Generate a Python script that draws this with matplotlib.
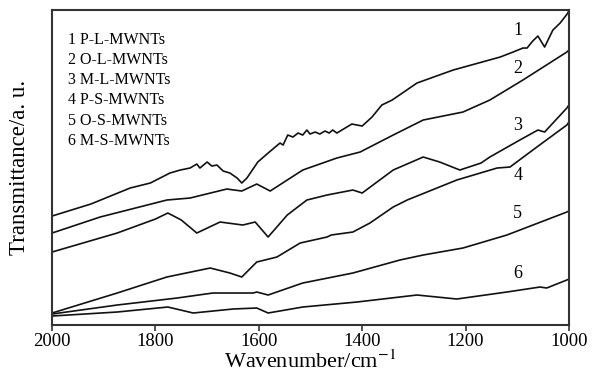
import matplotlib.pyplot as plt

plt.rcParams['font.family'] = ['Liberation Serif', 'DejaVu Serif']
plt.rcParams['mathtext.fontset'] = 'stix'

# spectra (wavenumber / cm-1, transmittance a.u.)
w1 = [2000, 1925, 1849, 1810, 1791, 1772, 1752, 1733, 1720, 1714, 1700, 1691,
      1681, 1669, 1656, 1642, 1633, 1623, 1602, 1582, 1559, 1553, 1544, 1534,
      1524, 1515, 1507, 1501, 1491, 1482, 1472, 1464, 1457, 1449, 1420, 1400,
      1381, 1362, 1342, 1294, 1224, 1133, 1108, 1089, 1081, 1070, 1060, 1047,
      1031, 1017, 1002, 1000]
t1 = [109, 121, 137, 142, 147, 152, 155, 157, 161, 157, 163, 159,
      160, 154, 152, 147, 142, 147, 163, 172, 182, 180, 190, 188,
      192, 190, 195, 191, 193, 191, 194, 192, 195, 192, 201, 199,
      208, 220, 225, 242, 255, 268, 273, 277, 277, 284, 289, 278,
      295, 302, 312, 315]

w2 = [2000, 1907, 1778, 1733, 1662, 1633, 1604, 1578, 1515, 1449, 1404, 1340,
      1282, 1205, 1153, 1089, 1004, 1000]
t2 = [92, 108, 125, 127, 136, 134, 141, 134, 155, 167, 173, 190,
      205, 213, 225, 245, 273, 275]

w3 = [2000, 1874, 1800, 1776, 1750, 1720, 1675, 1631, 1607, 1582, 1545, 1507,
      1468, 1418, 1400, 1340, 1282, 1250, 1211, 1170, 1153, 1095, 1060, 1047,
      1004, 1000]
t3 = [73, 92, 106, 112, 105, 92, 103, 100, 103, 88, 110, 125,
      130, 135, 132, 155, 168, 163, 155, 162, 168, 185, 195, 193,
      217, 220]

w4 = [2000, 1874, 1778, 1694, 1656, 1633, 1604, 1565, 1520, 1468, 1460, 1418,
      1385, 1340, 1313, 1217, 1139, 1114, 1062, 1004, 1000]
t4 = [12, 32, 48, 57, 52, 48, 63, 68, 82, 88, 90, 93,
      102, 118, 125, 145, 157, 158, 178, 200, 203]

w5 = [2000, 1874, 1758, 1689, 1611, 1604, 1582, 1515, 1418, 1327, 1282, 1205,
      1120, 1004, 1000]
t5 = [11, 20, 27, 32, 32, 33, 30, 42, 52, 65, 70, 77,
      90, 113, 114]

w6 = [2000, 1874, 1776, 1727, 1650, 1604, 1582, 1515, 1410, 1294, 1217, 1120,
      1056, 1043, 1004, 1000]
t6 = [9, 13, 18, 12, 16, 17, 12, 18, 23, 30, 26, 33,
      38, 37, 45, 46]

curve_labels = ['1', '2', '3', '4', '5', '6']
label_t = [295, 257, 200, 150, 112, 52]
names = ['1 P-L-MWNTs', '2 O-L-MWNTs', '3 M-L-MWNTs',
         '4 P-S-MWNTs', '5 O-S-MWNTs', '6 M-S-MWNTs']

fig = plt.figure(figsize=(5.92, 3.86), dpi=100)
ax = fig.add_axes([0.088, 0.158, 0.873, 0.816])

for w, t in [(w1, t1), (w2, t2), (w3, t3), (w4, t4), (w5, t5), (w6, t6)]:
    ax.plot(w, t, color='#111111', lw=1.2)

for lab, yt in zip(curve_labels, label_t):
    ax.text(1099, yt, lab, fontsize=13, ha='center', va='center')

for i, n in enumerate(names):
    ax.text(0.03, 0.905 - i * 0.064, n, transform=ax.transAxes,
            fontsize=11.5, va='center', ha='left')

ax.set_xlim(2000, 1000)
ax.set_ylim(0, 315)
ax.set_xticks([2000, 1800, 1600, 1400, 1200, 1000])
ax.set_yticks([])
ax.tick_params(axis='x', direction='out', length=4, width=1.2, pad=2,
               labelsize=13.5, color='#333333')
for s in ax.spines.values():
    s.set_linewidth(1.5)
    s.set_color('#333333')

ax.set_xlabel('Wavenumber/cm$^{-1}$', fontsize=16, labelpad=0)
ax.set_ylabel('Transmittance/a. u.', fontsize=16.5, labelpad=16)

fig.savefig('out.png', dpi=100)
